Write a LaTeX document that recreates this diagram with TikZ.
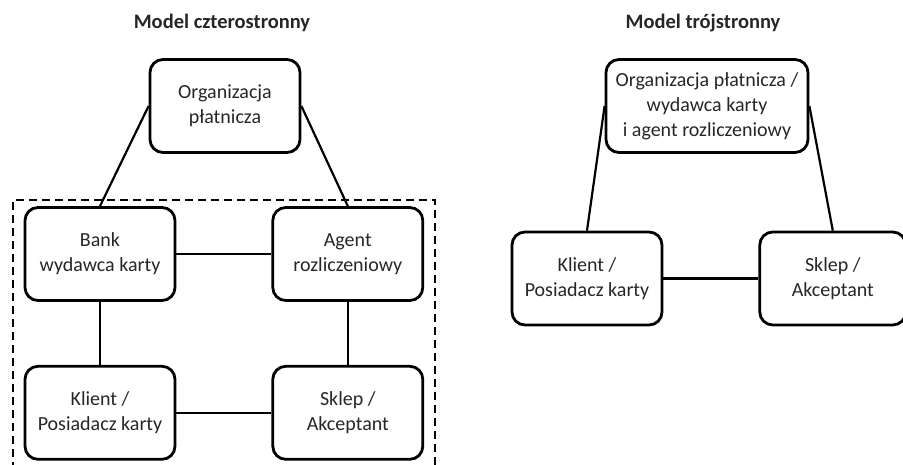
\documentclass[tikz,border=0pt]{standalone}
\usepackage{fontspec}
\setmainfont{Carlito}
\usepackage{xcolor}
\usepackage{tikz}
\usetikzlibrary{positioning}
\definecolor{ink}{HTML}{262626}
\tikzset{
  party/.style={
    draw=black, rounded corners=13pt, line width=2.8pt,
    minimum width=150pt, minimum height=93pt, inner sep=1pt,
    align=center, text=ink, font=\fontsize{20}{25}\selectfont},
  title/.style={font=\fontsize{20.5}{24}\selectfont\bfseries, text=ink},
  link/.style={line width=2.2pt, draw=black},
  group/.style={dash pattern=on 8pt off 5pt, line width=1.5pt},
}

\begin{document}
\begin{tikzpicture}[x=1pt, y=-1pt, node distance=63pt and 95pt]
  \useasboundingbox (0,0) rectangle (903,465);

  % four-party model
  \node[title] (titleA) at (222,23) {Model czterostronny};
  \node[party] (orgA) at (225,106) {Organizacja\\płatnicza};
  \node[party] (bank) at (100,254) {Bank\\wydawca karty};
  \node[party, right=of bank] (acq) {Agent\\rozliczeniowy};
  \node[party, below=of bank] (clientA) {Klient /\\Posiadacz karty};
  \node[party, right=of clientA] (shopA) {Sklep /\\Akceptant};
  \coordinate (frameSW) at (13,470);
  \coordinate (frameNE) at (435,200);

  \draw[group] (frameSW) |- (frameNE) -- (frameNE |- frameSW);
  \draw[link] (orgA.west) -- (bank.north);
  \draw[link] (orgA.east) -- (acq.north);
  \draw[link] (bank) -- (acq);
  \draw[link] (bank) -- (clientA);
  \draw[link] (acq) -- (shopA);
  \draw[link] (clientA) -- (shopA);

  % three-party model
  \node[title] (titleB) at (703,23) {Model trójstronny};
  \node[party, minimum width=202pt] (orgB) at (707,106) {Organizacja płatnicza /\\wydawca karty\\i agent rozliczeniowy};
  \node[party] (clientB) at (587,278.5) {Klient /\\Posiadacz karty};
  \node[party, right=of clientB, minimum width=146pt] (shopB) {Sklep /\\Akceptant};

  \draw[link] (orgB.west) -- (clientB.north);
  \draw[link] (orgB.east) -- (shopB.north);
  \draw[link] (clientB) -- (shopB);
\end{tikzpicture}
\end{document}
